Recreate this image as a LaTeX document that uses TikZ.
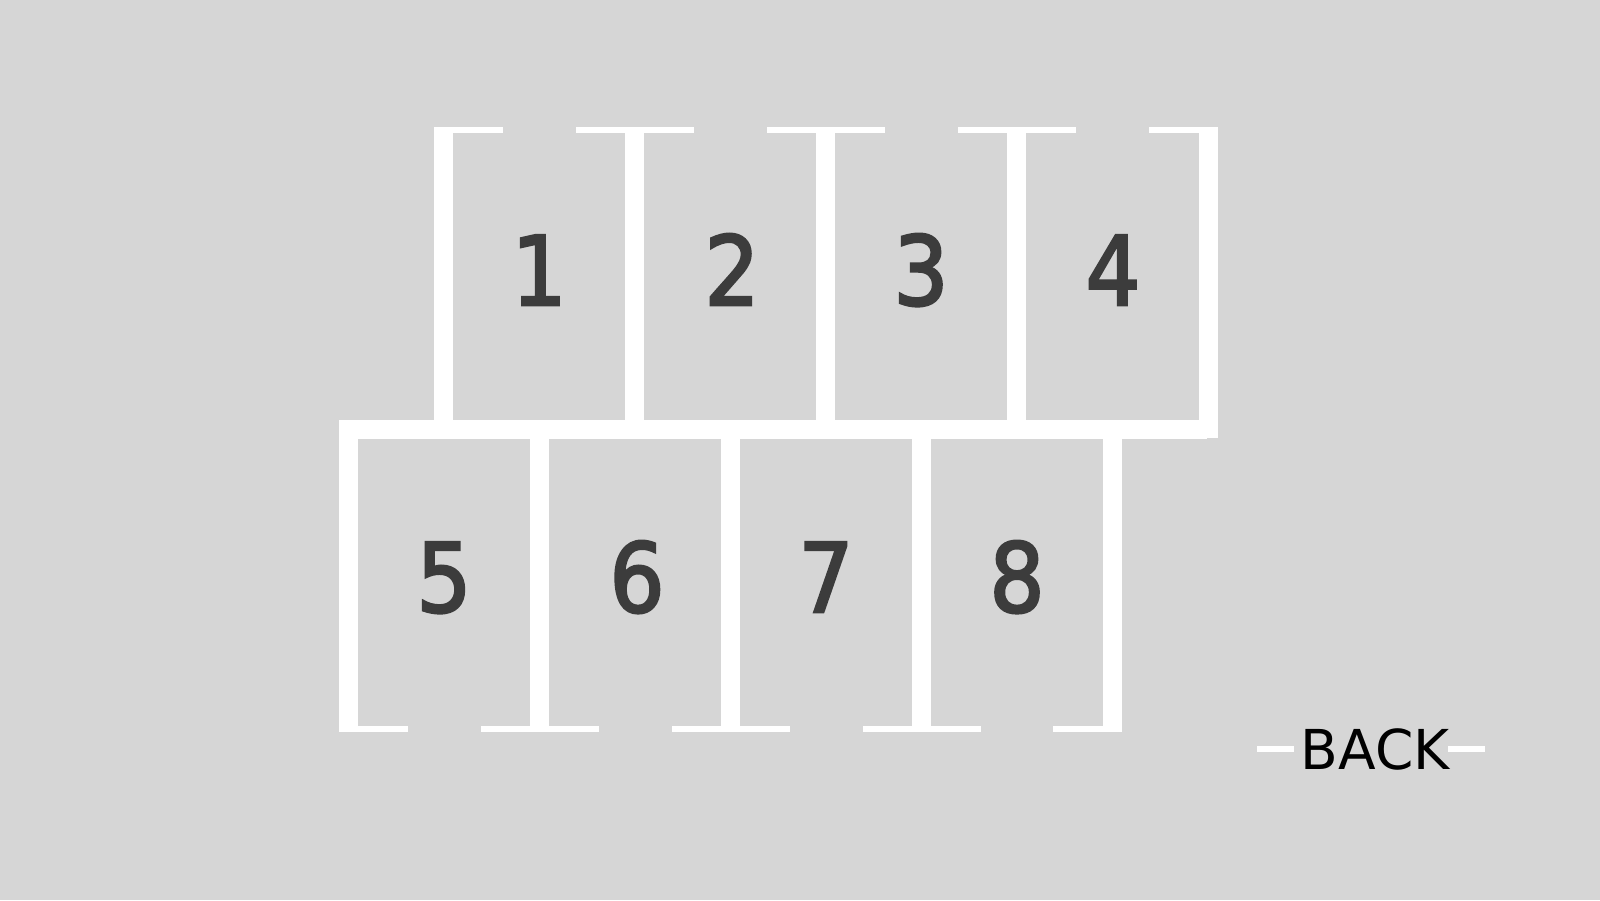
\documentclass[tikz,border=0pt]{standalone}
\usepackage{fontspec}
\setmainfont{DejaVu Sans}
\newfontfamily\numfont{DejaVu Sans Condensed}[FakeBold=2.6]
\definecolor{bg}{HTML}{D6D6D6}
\definecolor{digit}{HTML}{3C3C3C}
\begin{document}
\begin{tikzpicture}[x=1pt,y=-1pt,
  bar/.style={fill=white},
  num/.style={anchor=base, text=digit, inner sep=0pt, font=\numfont\fontsize{96}{96}\selectfont},
  backlabel/.style={anchor=base, text=black, inner sep=0pt, font=\fontsize{55}{55}\selectfont}]
\fill[bg] (0,0) rectangle (1600,900);
\useasboundingbox (0,0) rectangle (1600,900);
% top row verticals
\foreach \x in {434,625,816,1007} \fill[bar] (\x,127) rectangle (\x+19,420);
\fill[bar] (1199,127) rectangle (1218,438);
% bottom row verticals
\foreach \x in {339,530,721,912,1103} \fill[bar] (\x,439) rectangle (\x+19,732);
% middle thick bar
\fill[bar] (339,420) rectangle (1207,439);
% top thin bars
\fill[bar] (434,127) rectangle (503,133);
\foreach \c in {634.5,825.5,1016.5} \fill[bar] (\c-59,127) rectangle (\c+59,133);
\fill[bar] (1149,127) rectangle (1218,133);
% bottom thin bars
\fill[bar] (339,726) rectangle (408,732);
\foreach \c in {539.5,730.5,921.5} \fill[bar] (\c-59,726) rectangle (\c+59,732);
\fill[bar] (1053,726) rectangle (1122,732);
% labels
\node[num] (n1) at (539,305) {1};
\node[num] (n2) at (732,305) {2};
\node[num] (n3) at (921,305) {3};
\node[num] (n4) at (1113,305) {4};
\node[num] (n5) at (444,612) {5};
\node[num] (n6) at (637,612) {6};
\node[num] (n7) at (826,612) {7};
\node[num] (n8) at (1017,612) {8};
% back
\node[backlabel] (back) at (1375,769) {BACK};
\fill[bar] (1257,746) rectangle (1294,752);
\fill[bar] (1448,746) rectangle (1485,752);
\end{tikzpicture}
\end{document}
